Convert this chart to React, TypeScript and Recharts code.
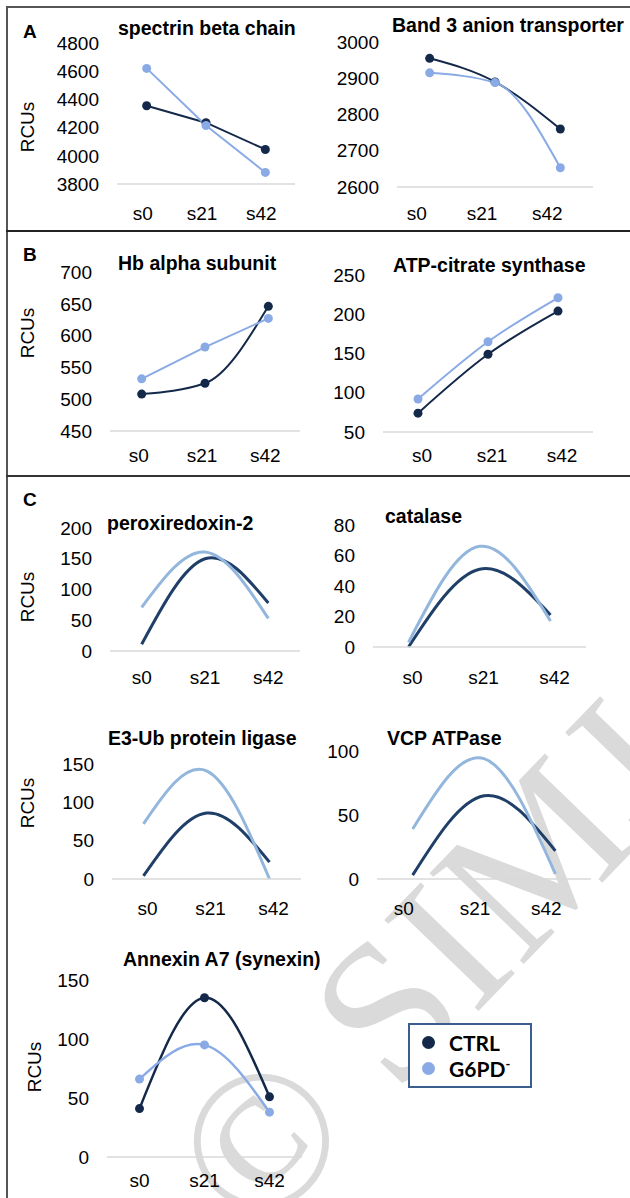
import React from 'react';
import { LineChart, Line, XAxis, YAxis, Legend } from 'recharts';

const stages = ['s0', 's21', 's42'];

// panel A
const spectrinCtrl = [4355, 4235, 4045];
const spectrinG6pd = [4620, 4215, 3882];
const spectrinTicks = [3800, 4000, 4200, 4400, 4600, 4800];

const band3Ctrl = [2955, 2890, 2760];
const band3G6pd = [2915, 2888, 2653];
const band3Ticks = [2600, 2700, 2800, 2900, 3000];

// panel B
const hbCtrl = [508, 525, 646];
const hbG6pd = [532, 582, 627];
const hbTicks = [450, 500, 550, 600, 650, 700];

const atpCtrl = [74, 149, 204];
const atpG6pd = [92, 165, 221];
const atpTicks = [50, 100, 150, 200, 250];

// panel C
const prdxCtrl = [11, 150, 78];
const prdxG6pd = [71, 161, 53];
const prdxTicks = [0, 50, 100, 150, 200];

const catCtrl = [0, 51, 21];
const catG6pd = [3, 66, 17];
const catTicks = [0, 20, 40, 60, 80];

const e3Ctrl = [4, 86, 22];
const e3G6pd = [72, 141, 0];
const e3Ticks = [0, 50, 100, 150];

const vcpCtrl = [3, 65, 22];
const vcpG6pd = [39, 94, 4];
const vcpTicks = [0, 50, 100];

const anxCtrl = [41, 135, 51];
const anxG6pd = [66, 95, 38];
const anxTicks = [0, 50, 100, 150];

const NAVY = '#14294A';
const PERI = '#8AAAE5';
const SLATE = '#1F3F68';
const SKY = '#93B6DD';
const FONT = '"Liberation Sans", Arial, sans-serif';

const YW = 60;
const XH = 40;
const MT = 10;
const MR = 10;

type Curve = 'linear' | 'monotone' | 'natural';

interface Spec {
  title: string;
  ctrl: number[];
  g6pd: number[];
  ticks: number[];
  x1: number;
  x2: number;
  yTop: number;
  yBot: number;
  titleX: number;
  titleY: number;
  gap: number;
  dx?: number;
  ctrlCurve: Curve;
  g6pdCurve: Curve;
  dots: boolean;
  width: number;
  legend?: boolean;
}

const charts: Spec[] = [
  { title: 'spectrin beta chain', ctrl: spectrinCtrl, g6pd: spectrinG6pd, ticks: spectrinTicks, x1: 117, x2: 295, yTop: 43, yBot: 184, titleX: 118, titleY: 28, gap: 29, dx: -4, ctrlCurve: 'linear', g6pdCurve: 'linear', dots: true, width: 2 },
  { title: 'Band 3 anion transporter', ctrl: band3Ctrl, g6pd: band3G6pd, ticks: band3Ticks, x1: 397, x2: 593, yTop: 42, yBot: 187, titleX: 392, titleY: 25, gap: 26, dx: -13, ctrlCurve: 'monotone', g6pdCurve: 'monotone', dots: true, width: 2 },
  { title: 'Hb alpha subunit', ctrl: hbCtrl, g6pd: hbG6pd, ticks: hbTicks, x1: 110, x2: 300, yTop: 272, yBot: 431, titleX: 118, titleY: 263, gap: 24, dx: -3, ctrlCurve: 'monotone', g6pdCurve: 'linear', dots: true, width: 2 },
  { title: 'ATP-citrate synthase', ctrl: atpCtrl, g6pd: atpG6pd, ticks: atpTicks, x1: 383, x2: 593, yTop: 275, yBot: 432, titleX: 393, titleY: 265, gap: 23, dx: 4, ctrlCurve: 'monotone', g6pdCurve: 'monotone', dots: true, width: 2 },
  { title: 'peroxiredoxin-2', ctrl: prdxCtrl, g6pd: prdxG6pd, ticks: prdxTicks, x1: 110, x2: 300, yTop: 528, yBot: 651, titleX: 107, titleY: 523, gap: 26, ctrlCurve: 'natural', g6pdCurve: 'natural', dots: false, width: 3 },
  { title: 'catalase', ctrl: catCtrl, g6pd: catG6pd, ticks: catTicks, x1: 373, x2: 586, yTop: 525, yBot: 647, titleX: 385, titleY: 516, gap: 30, dx: 4, ctrlCurve: 'natural', g6pdCurve: 'natural', dots: false, width: 3 },
  { title: 'E3-Ub protein ligase', ctrl: e3Ctrl, g6pd: e3G6pd, ticks: e3Ticks, x1: 112, x2: 301, yTop: 764, yBot: 879, titleX: 108, titleY: 738, gap: 29, dx: 4, ctrlCurve: 'natural', g6pdCurve: 'natural', dots: false, width: 3 },
  { title: 'VCP ATPase', ctrl: vcpCtrl, g6pd: vcpG6pd, ticks: vcpTicks, x1: 377, x2: 591, yTop: 751, yBot: 879, titleX: 387, titleY: 738, gap: 29, dx: -9, ctrlCurve: 'natural', g6pdCurve: 'natural', dots: false, width: 3 },
  { title: 'Annexin A7 (synexin)', ctrl: anxCtrl, g6pd: anxG6pd, ticks: anxTicks, x1: 107, x2: 302, yTop: 980, yBot: 1157, titleX: 123, titleY: 959, gap: 23, ctrlCurve: 'natural', g6pdCurve: 'natural', dots: true, width: 2.5, legend: true },
];

const rcusLabels = [
  { x: 28, y: 127 },
  { x: 28, y: 333 },
  { x: 28, y: 597 },
  { x: 28, y: 803 },
  { x: 35, y: 1067 },
];

const panelLetters = [
  { t: 'A', y: 32 },
  { t: 'B', y: 255 },
  { t: 'C', y: 500 },
];

const LEGEND_BOX = { left: 408, top: 1023, w: 124, h: 65 };

const renderLegend = (props: any) => (
  <div
    style={{
      width: LEGEND_BOX.w,
      height: LEGEND_BOX.h,
      boxSizing: 'border-box',
      border: '2.5px solid #3C5E8C',
      background: '#fff',
      paddingTop: 4.5,
    }}
  >
    {(props.payload || []).map((e: any) => (
      <div key={e.value} style={{ display: 'flex', alignItems: 'center', height: 26 }}>
        <span
          style={{
            display: 'inline-block',
            width: 13,
            height: 13,
            borderRadius: '50%',
            background: e.color,
            marginLeft: 12,
            marginRight: 14,
          }}
        />
        <span style={{ fontFamily: 'Lato, "Open Sans", sans-serif', fontWeight: 700, fontSize: 21, color: '#000', lineHeight: '26px' }}>
          {e.value}
          {e.value === 'G6PD' && <sup style={{ fontSize: 13, lineHeight: 0 }}>-</sup>}
        </span>
      </div>
    ))}
  </div>
);

function ProteinChart({ s }: { s: Spec }) {
  const data = stages.map((stage, i) => ({ stage, CTRL: s.ctrl[i], G6PD: s.g6pd[i] }));
  const w = s.x2 - s.x1;
  const left = s.x1 - YW;
  const top = s.yTop - MT;
  const right = s.legend ? LEGEND_BOX.left + LEGEND_BOX.w + 8 - s.x2 : MR;
  const ctrlColor = s.dots ? NAVY : SLATE;
  const g6Color = s.dots ? PERI : SKY;
  const dx = s.dx ?? 0;

  const xTick = (p: any) => (
    <text
      x={p.x + dx}
      y={p.y + s.gap}
      textAnchor="middle"
      dominantBaseline="central"
      fontSize={19}
      fill="#000"
    >
      {p.payload.value}
    </text>
  );

  return (
    <div style={{ position: 'absolute', left, top }}>
      <LineChart
        width={w + YW + right}
        height={s.yBot - s.yTop + MT + XH}
        data={data}
        margin={{ top: MT, right, left: 0, bottom: 0 }}
      >
        <XAxis
          dataKey="stage"
          interval={0}
          padding={{ left: w / 6, right: w / 6 }}
          axisLine={{ stroke: '#d9d9d9', strokeWidth: 1.5 }}
          tickLine={false}
          tickSize={0}
          tickMargin={0}
          height={XH}
          tick={xTick}
        />
        <YAxis
          domain={[s.ticks[0], s.ticks[s.ticks.length - 1]]}
          ticks={s.ticks}
          interval={0}
          width={YW}
          axisLine={false}
          tickLine={false}
          tickSize={0}
          tickMargin={18}
          tick={{ fill: '#000', fontSize: 19 }}
        />
        <Line
          name="CTRL"
          dataKey="CTRL"
          type={s.ctrlCurve}
          stroke={ctrlColor}
          strokeWidth={s.width}
          dot={s.dots ? { r: 4.5, fill: ctrlColor, stroke: ctrlColor, strokeWidth: 0 } : false}
          activeDot={false}
          isAnimationActive={false}
        />
        <Line
          name="G6PD"
          dataKey="G6PD"
          type={s.g6pdCurve}
          stroke={g6Color}
          strokeWidth={s.width}
          dot={s.dots ? { r: 4.5, fill: g6Color, stroke: g6Color, strokeWidth: 0 } : false}
          activeDot={false}
          isAnimationActive={false}
        />
        {s.legend && (
          <Legend
            layout="vertical"
            align="center"
            verticalAlign="middle"
            content={renderLegend}
            wrapperStyle={{
              left: LEGEND_BOX.left - left,
              top: LEGEND_BOX.top - top,
              width: LEGEND_BOX.w,
              height: LEGEND_BOX.h,
            }}
          />
        )}
      </LineChart>
    </div>
  );
}

export default function App() {
  return (
    <div
      style={{
        position: 'absolute',
        left: 0,
        top: 0,
        width: 630,
        height: 1198,
        background: '#fff',
        overflow: 'hidden',
        fontFamily: FONT,
        color: '#000',
      }}
    >
      {/* watermark */}
      <svg width={630} height={1198} style={{ position: 'absolute', left: 0, top: 0 }}>
        <text
          x={428}
          y={966}
          transform="rotate(-46 428 966)"
          textAnchor="middle"
          dominantBaseline="central"
          fontFamily='"Liberation Serif", "Times New Roman", serif'
          fontSize={200}
          fill="#dadada"
        >
          © SIMJ
        </text>
      </svg>

      {/* frame */}
      <div style={{ position: 'absolute', left: 6, top: 6, width: 624, height: 2, background: '#555' }} />
      <div style={{ position: 'absolute', left: 6, top: 6, width: 2, height: 1192, background: '#555' }} />
      <div style={{ position: 'absolute', left: 6, top: 230, width: 624, height: 2, background: '#222' }} />
      <div style={{ position: 'absolute', left: 6, top: 475, width: 624, height: 2, background: '#333' }} />

      {panelLetters.map((p) => (
        <div
          key={p.t}
          style={{ position: 'absolute', left: 23, top: p.y - 12, lineHeight: '24px', fontSize: 19, fontWeight: 700 }}
        >
          {p.t}
        </div>
      ))}

      {rcusLabels.map((r, i) => (
        <div
          key={i}
          style={{
            position: 'absolute',
            left: r.x,
            top: r.y,
            fontSize: 19,
            lineHeight: '22px',
            whiteSpace: 'nowrap',
            transform: 'translate(-50%, -50%) rotate(-90deg)',
          }}
        >
          RCUs
        </div>
      ))}

      {charts.map((s) => (
        <ProteinChart key={s.title} s={s} />
      ))}

      {charts.map((s) => (
        <div
          key={s.title + '-t'}
          style={{
            position: 'absolute',
            left: s.titleX,
            top: s.titleY - 12,
            lineHeight: '24px',
            fontSize: 19.5,
            fontWeight: 700,
            whiteSpace: 'nowrap',
          }}
        >
          {s.title}
        </div>
      ))}
    </div>
  );
}
